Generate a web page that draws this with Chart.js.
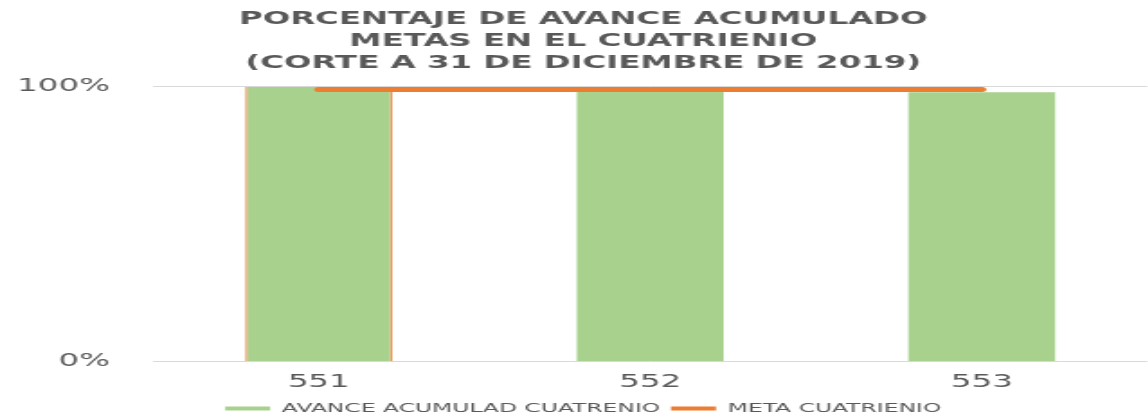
<!DOCTYPE html>
<html>
<head>
<meta charset="utf-8">
<script src="https://cdn.jsdelivr.net/npm/chart.js@4/dist/chart.umd.min.js"></script>
<style>
  html, body { margin: 0; padding: 0; overflow: hidden; background: #fff; }
  /* el original esta estirado en horizontal, se dibuja angosto y se estira */
  #wrap { position: relative; width: 640px; height: 425px; transform: scaleX(1.8); transform-origin: 0 0; }
</style>
</head>
<body>
<div id="wrap"><canvas id="chart"></canvas></div>
<script>
// Datos
const metas = ["551", "552", "553"];
const avance = [1.0, 0.99, 0.98];
const metaCuatrienio = [0.99, 0.99, 0.99];
const yTicks = [0, 1];

const gris = "#595959";
const verde = "#a9d18e";
const naranja = "#ed7d31";

const ctx = document.getElementById("chart").getContext("2d");

let chart = new Chart(ctx, {
    type: "bar",
    data: {
        labels: metas,
        datasets: [
            {
                label: "AVANCE ACUMULAD CUATRENIO",
                data: avance,
                backgroundColor: verde,
                borderColor: naranja,
                borderWidth: (c) =>
                    c.dataIndex === 0 ? { left: 1.2, right: 1.2, top: 0, bottom: 0 } : 0,
                barPercentage: 0.443,
                categoryPercentage: 1,
                order: 2,
            },
            {
                type: "line",
                label: "META CUATRIENIO",
                data: metaCuatrienio,
                borderColor: naranja,
                backgroundColor: naranja,
                borderWidth: 5,
                borderCapStyle: "round",
                pointRadius: 0,
                order: 1,
            },
        ],
    },
    options: {
        responsive: true,
        maintainAspectRatio: false,
        animation: false,
        layout: { padding: { left: 8, right: 0, top: 0, bottom: 0 } },
        plugins: {
            title: {
                display: true,
                text: [
                    "PORCENTAJE DE AVANCE ACUMULADO",
                    "METAS EN EL CUATRIENIO",
                    "(CORTE A 31 DE DICIEMBRE DE 2019)",
                ],
                color: gris,
                font: { family: "DejaVu Sans", size: 18, weight: "bold", lineHeight: 1.2 },
                padding: { top: 9, bottom: 13 },
            },
            legend: {
                position: "bottom",
                labels: {
                    color: gris,
                    font: { family: "DejaVu Sans", size: 13 },
                    boxWidth: 25,
                    boxHeight: 4,
                    padding: 6,
                    sort: (a, b) => a.datasetIndex - b.datasetIndex,
                    generateLabels: (ch) => {
                        const items = Chart.defaults.plugins.legend.labels.generateLabels(ch);
                        items.forEach((it) => {
                            it.lineWidth = 0;
                            it.fillStyle = ch.data.datasets[it.datasetIndex].backgroundColor;
                        });
                        return items;
                    },
                },
            },
            tooltip: { enabled: false },
        },
        scales: {
            x: {
                grid: { display: false },
                border: { display: false },
                ticks: {
                    color: gris,
                    font: { family: "DejaVu Sans", size: 18 },
                    padding: 2.5,
                },
            },
            y: {
                min: 0,
                max: 1,
                afterFit: (s) => { s.width = 77; },
                afterBuildTicks: (s) => { s.ticks = yTicks.map((v) => ({ value: v })); },
                grid: { color: "#d9d9d9", drawTicks: false, lineWidth: 1 },
                border: { display: false },
                ticks: {
                    color: gris,
                    font: { family: "DejaVu Sans", size: 18 },
                    padding: 24,
                    callback: (v) => Math.round(v * 100) + "%",
                },
            },
        },
    },
});
</script>
</body>
</html>
